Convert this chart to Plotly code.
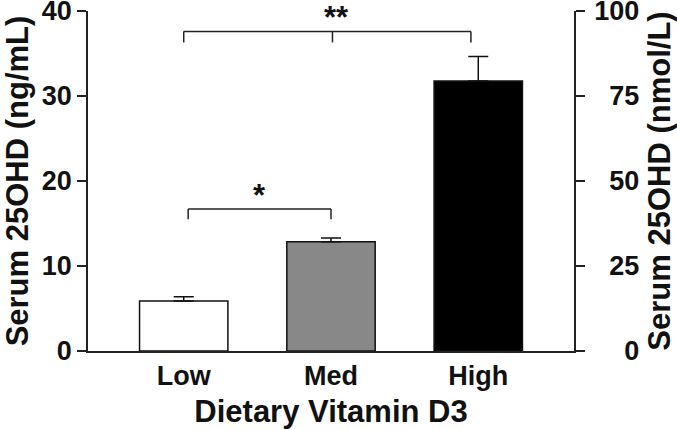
import plotly.graph_objects as go

categories = ["Low", "Med", "High"]
means_ngml = [5.88, 12.86, 31.76]
sem_ngml = [0.51, 0.44, 2.9]
bar_colors = ["#ffffff", "#888888", "#000000"]

left_ticks = [0, 10, 20, 30, 40]
right_ticks = [0, 25, 50, 75, 100]

# significance brackets: (x_left, x_mid, x_right, y_top, y_drop, label)
brackets = [
    (0.0, 1.01, 1.95, 37.6, 36.3, "**"),
    (0.03, None, 1.0, 16.7, 15.5, "*"),
]

FONT = "Liberation Sans, Arial, sans-serif"
AX = "#222222"
TXT = "#111111"

fig = go.Figure()
fig.add_trace(go.Bar(
    x=list(range(len(categories))), y=means_ngml, width=0.6,
    marker=dict(color=bar_colors, line=dict(color="#111111", width=1.5)),
    error_y=dict(type="data", array=sem_ngml, arrayminus=[0]*3, symmetric=False,
                 color="#111111", thickness=1.5, width=10),
    showlegend=False, hoverinfo="skip",
))
fig.add_trace(go.Scatter(x=[0], y=[0], yaxis="y2", mode="markers",
                         marker=dict(opacity=0), showlegend=False, hoverinfo="skip"))

shapes = []
annotations = []
for xl, xm, xr, yt, yd, lab in brackets:
    shapes.append(dict(type="line", x0=xl, x1=xr, y0=yt, y1=yt, xref="x", yref="y",
                       line=dict(color=AX, width=1.5)))
    for xx in [xl, xm, xr]:
        if xx is None:
            continue
        shapes.append(dict(type="line", x0=xx, x1=xx, y0=yt, y1=yd, xref="x", yref="y",
                           line=dict(color=AX, width=1.5)))
    cx = (xl + xr) / 2 if xm is None else xm + 0.03
    annotations.append(dict(x=cx, y=yt, xref="x", yref="y", text="<b>%s</b>" % lab,
                            showarrow=False, yanchor="bottom", yshift=-6,
                            font=dict(family=FONT, size=31, color=TXT)))

# right-axis labels are right-aligned in the reference: pad with figure spaces
width_max = max(len(str(v)) for v in right_ticks)
right_text = ["\u2007" * (width_max - len(str(v))) + str(v) for v in right_ticks]

tickfont = dict(family=FONT, size=27, color=TXT, weight="bold")
titlefont = dict(family=FONT, size=31, color=TXT, weight="bold")

fig.update_layout(
    width=677, height=430,
    margin=dict(l=88, r=103, t=11, b=79),
    plot_bgcolor="white", paper_bgcolor="white",
    shapes=shapes, annotations=annotations,
    xaxis=dict(range=[-0.65, 2.65], tickvals=list(range(len(categories))),
               ticktext=categories, showline=True, linecolor=AX, linewidth=1.5,
               ticks="", showgrid=False, zeroline=False, automargin=False,
               tickfont=tickfont,
               title=dict(text="Dietary Vitamin D3", standoff=10, font=titlefont)),
    yaxis=dict(range=[0, 40], tickvals=left_ticks, showline=True, linecolor=AX,
               linewidth=1.5, ticks="outside", ticklen=9, tickwidth=1.5, tickcolor=AX,
               showgrid=False, zeroline=False, automargin=False,
               ticklabeloverflow="allow",
               tickfont=tickfont,
               title=dict(text="Serum 25OHD (ng/mL)", standoff=10, font=titlefont)),
    yaxis2=dict(range=[0, 100], tickvals=right_ticks, ticktext=right_text,
                overlaying="y", side="right",
                showline=True, linecolor=AX, linewidth=1.5, ticks="outside",
                ticklen=9, tickwidth=1.5, tickcolor=AX, showgrid=False, zeroline=False,
                automargin=False, ticklabeloverflow="allow",
                ticklabelstandoff=4,
                tickfont=tickfont,
                title=dict(text="Serum 25OHD (nmol/L)", standoff=10, font=titlefont)),
)

# remove the browser's default 8px body margin so the figure fills the window
fig.write_html("out.html", config={"displayModeBar": False},
               post_script="document.body.style.margin='0';")
